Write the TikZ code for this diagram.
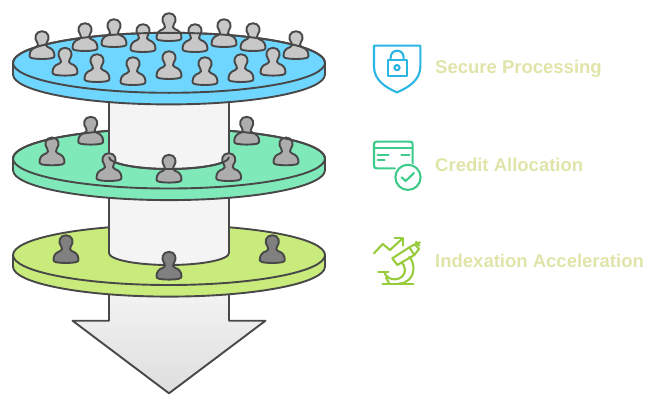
\documentclass[tikz,border=0pt]{standalone}
\usepackage{fontspec}
\setmainfont{Liberation Sans}
\definecolor{edge}{HTML}{484848}
\definecolor{discA}{HTML}{6FD6FF}
\definecolor{discB}{HTML}{80E9BA}
\definecolor{discC}{HTML}{C9EB7C}
\definecolor{colfill}{HTML}{F4F4F4}
\definecolor{labeltxt}{HTML}{DFE5A9}
\definecolor{icA}{HTML}{2BB5E2}
\definecolor{icB}{HTML}{3CCB8B}
\definecolor{icC}{HTML}{96CC3C}
\tikzset{
  outline/.style={draw=edge,line width=1.9pt,line join=round},
  iconline/.style={line width=#1,line cap=round,line join=round,fill=none},
  lbl/.style={anchor=west,text=labeltxt,font=\fontsize{18.5}{22}\selectfont\bfseries,inner sep=0pt},
  person/.pic={
    \path[outline,fill=#1] (-12.5,-3) .. controls (-12.5,-8) and (-9.5,-10.5) .. (-6,-11.5)
      .. controls (-3.5,-12.5) and (-3.5,-14) .. (-4.7,-16)
      .. controls (-8.5,-20.5) and (-6.5,-27.5) .. (0,-27.5)
      .. controls (6.5,-27.5) and (8.5,-20.5) .. (4.7,-16)
      .. controls (3.5,-14) and (3.5,-12.5) .. (6,-11.5)
      .. controls (9.5,-10.5) and (12.5,-8) .. (12.5,-3)
      .. controls (12.5,-0.5) and (10,0) .. (0,0.3)
      .. controls (-10,0) and (-12.5,-0.5) .. (-12.5,-3) -- cycle;
  }
}
\newcommand{\discdraw}[2]{%
  \path[outline,fill=#2] (13,#1) -- (13,#1+11.6) arc[start angle=180,end angle=360,x radius=156pt,y radius=30pt] -- (325,#1)
    arc[start angle=0,end angle=180,x radius=156pt,y radius=30pt] -- cycle;
  \path[outline] (13,#1) arc[start angle=180,end angle=360,x radius=156pt,y radius=30pt];
}
\newcommand{\columndraw}[2]{%
  \path[outline,fill=colfill] (109,#1) -- (109,#2) arc[start angle=180,end angle=360,x radius=60pt,y radius=12pt] -- (229,#1);
  \path[fill=colfill] (110,#1) rectangle (228,#2);
}
\begin{document}
\begin{tikzpicture}[x=1pt,y=-1pt]
\useasboundingbox (0,0) rectangle (662,407);
% arrow
\path[outline,top color=colfill,bottom color=black!13] (109,285) -- (109,320.7) -- (72.5,320.7) -- (169,393.3) -- (265.5,320.7) -- (229,320.7) -- (229,285) -- cycle;
% lowest disc and columns
\discdraw{255}{discC}
\columndraw{190}{253}
\discdraw{158.5}{discB}
\columndraw{90}{157}
\discdraw{62.8}{discA}
% people, top disc
\foreach \px/\py in {42/58.7,85/50.7,114/46.7,143/51.7,195/51.7,224/46.7,253/50.7,296/58.7,169/40.7,65/75.3,97/81.7,133/84.7,169/78.7,205/84.7,241/81.7,273/75.3}
  \path (\px,\py) pic {person=black!22};
\path[outline] (13,62.8) arc[start angle=180,end angle=0,x radius=156pt,y radius=30pt];
% people, middle disc
\foreach \px/\py in {52/165,90.7/144.3,246.7/144.3,286/165,109/180.7,169/182.3,228.7/180.7}
  \path (\px,\py) pic {person=black!32};
\path[outline] (13,158.5) arc[start angle=180,end angle=112.6,x radius=156pt,y radius=30pt];
\path[outline] (325,158.5) arc[start angle=0,end angle=67.4,x radius=156pt,y radius=30pt];
\path[outline] (109,157) arc[start angle=180,end angle=360,x radius=60pt,y radius=12pt];
% people, bottom disc
\foreach \px/\py in {66/262.7,272.3/262.7,169/279.3}
  \path (\px,\py) pic {person=black!50};
% labels
\node[lbl] (secure) at (435,68.5) {Secure Processing};
\node[lbl] (credit) at (435,165) {Credit Allocation};
\node[lbl] (index) at (435,261) {Indexation Acceleration};
% shield icon
\begin{scope}[shift={(360,35)},x=.3333pt,y=-.3333pt]
  \draw[icA,iconline=2.1pt] (42,32) -- (181,32) -- (181,95) .. controls (181,135) and (145,158) .. (111,172) .. controls (77,158) and (42,135) .. (42,95) -- cycle;
  \draw[icA,iconline=2.1pt] (83,75) rectangle (140,122);
  \draw[icA,iconline=2.1pt] (92,75) -- (92,68) .. controls (92,40) and (131,40) .. (131,68) -- (131,75);
  \draw[icA,iconline=2.1pt] (111,98) circle[radius=2.6pt];
\end{scope}
% card icon
\begin{scope}[shift={(360,130)},x=.3333pt,y=-.3333pt]
  \draw[icB,iconline=2.1pt] (105,115) -- (50,115) .. controls (44,115) and (42,113) .. (42,107) -- (42,43) .. controls (42,37) and (44,35) .. (50,35) -- (150,35) .. controls (156,35) and (158,37) .. (158,43) -- (158,100);
  \draw[icB,iconline=2.1pt] (42,53) -- (158,53);
  \draw[icB,iconline=2.1pt] (53,76) -- (86,76) (124,76) -- (148,76) (53,90) -- (74,90);
  \draw[icB,iconline=2.1pt] (144,142) circle[radius=12.6pt];
  \draw[icB,iconline=2.1pt] (125,142) -- (137,153) -- (162,129);
\end{scope}
% microscope icon
\begin{scope}[shift={(360,225)},x=.3333pt,y=-.3333pt]
  \draw[icC,iconline=2.1pt] (42,85) -- (68,57) -- (90,75) -- (128,40);
  \draw[icC,iconline=2.1pt] (104,40) -- (128,40) -- (128,62);
  \draw[icC,iconline=2.1pt] (97,100) -- (148,67) -- (163,90) -- (112,120) -- cycle;
  \draw[icC,iconline=2.1pt] (148,67) -- (165,58) -- (177,72) -- (163,90);
  \draw[icC,iconline=2.1pt] (165,58) -- (180,52);
  \draw[icC,iconline=2.1pt] (168,50) -- (178,62);
  \draw[icC,iconline=2.1pt] (68,176) -- (160,176);
  \draw[icC,iconline=2.1pt] (55,140) -- (85,140);
  \draw[icC,iconline=2.1pt] (72,140) .. controls (78,158) and (92,163) .. (105,163) .. controls (122,163) and (135,150) .. (135,135) .. controls (135,125) and (130,118) .. (125,112);
  \draw[icC,iconline=2.1pt] (148,95) .. controls (165,115) and (165,150) .. (145,165) .. controls (138,172) and (128,176) .. (115,176);
  \draw[icC,iconline=2.1pt] (88,176) -- (78,158);
\end{scope}
\end{tikzpicture}
\end{document}
